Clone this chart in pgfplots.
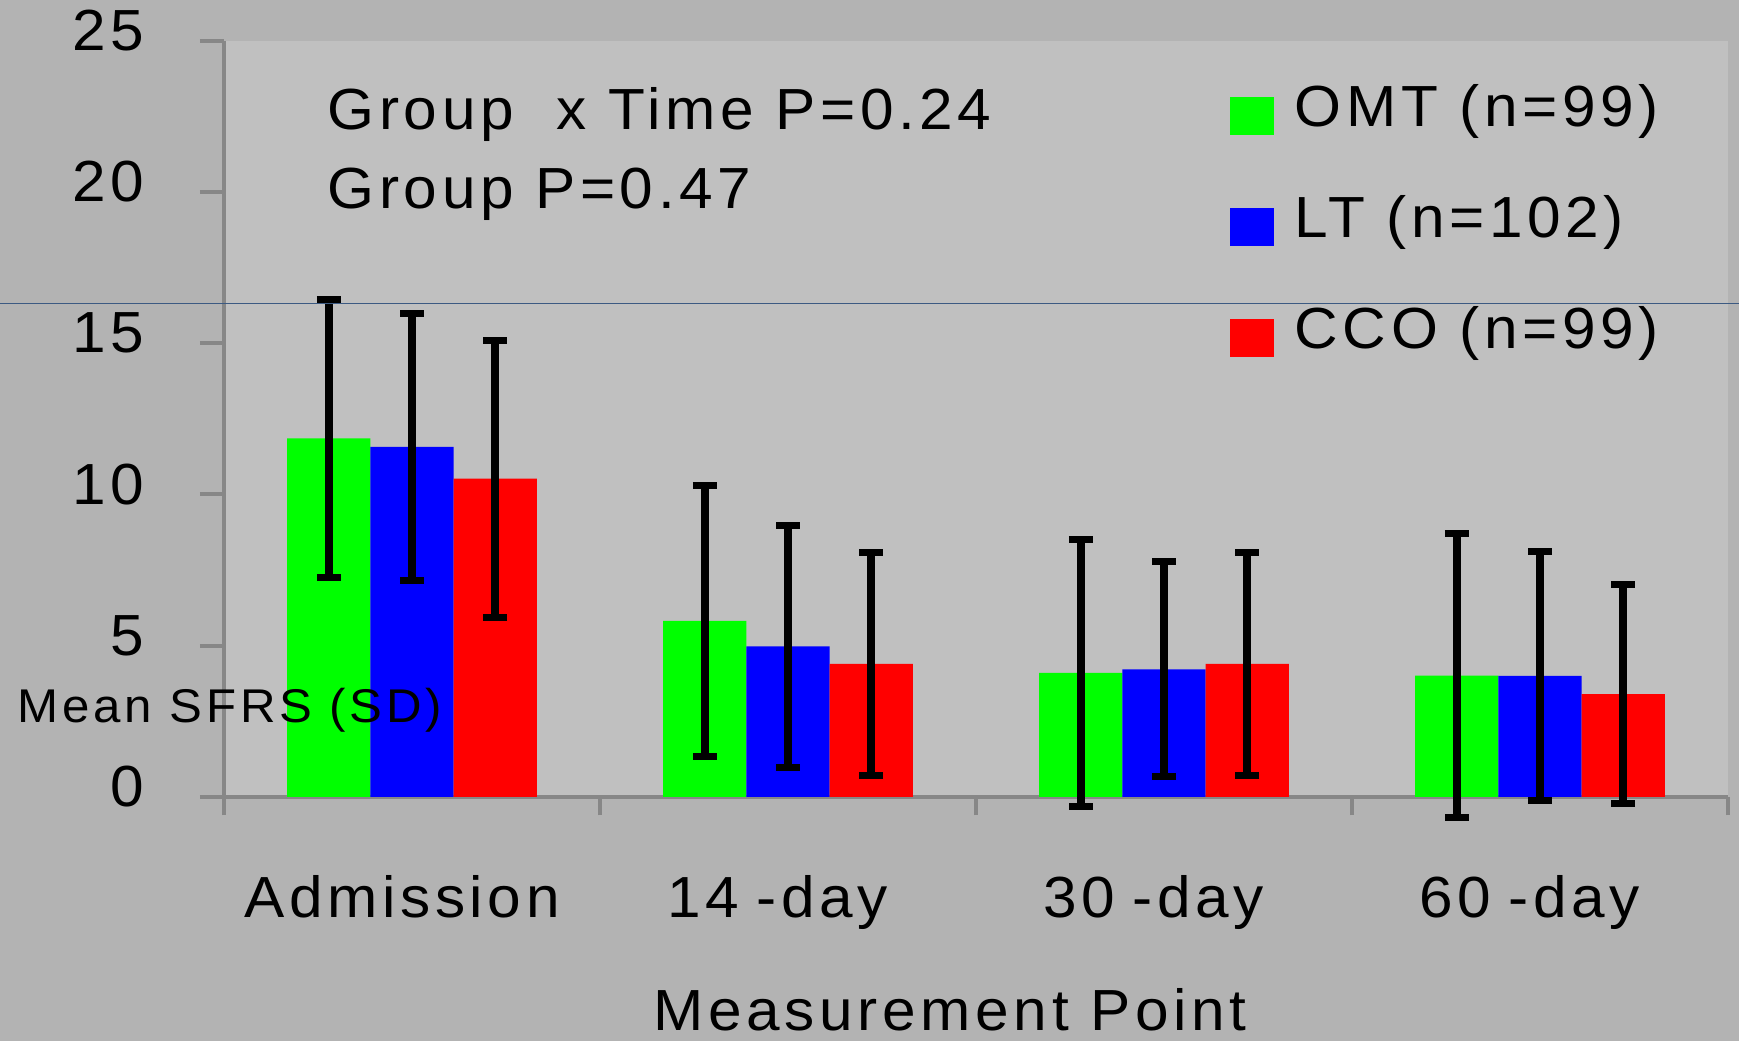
\documentclass[border=0pt]{standalone}
\usepackage{fontspec}
\setmainfont{Liberation Sans}[LetterSpace=8,FakeStretch=1.04]
\usepackage{pgfplots}
\usepackage{pgfplotstable}
\pgfplotsset{compat=1.18}
\definecolor{outerbg}{RGB}{179,179,179}
\definecolor{innerbg}{RGB}{192,192,192}
\definecolor{axgray}{RGB}{135,135,135}
\definecolor{omt}{RGB}{0,255,0}
\definecolor{lt}{RGB}{0,0,255}
\definecolor{cco}{RGB}{255,0,0}
\definecolor{artline}{RGB}{60,90,130}
\newcommand{\bigfont}{\fontsize{17.4pt}{20pt}\selectfont}
\newcommand{\smallfont}{\fontsize{14.2pt}{17pt}\selectfont}
\pgfplotstableread{
x g ge b be r re
0 11.85 4.59 11.57 4.40 10.52 4.58
1 5.82 4.47 4.98 3.99 4.40 3.68
2 4.10 4.42 4.22 3.55 4.40 3.68
3 4.01 4.70 4.00 4.12 3.40 3.62
}\data
\begin{document}
\begin{tikzpicture}
\fill[outerbg] (-67.2pt,-73.2pt) rectangle (454.5pt,239.1pt);
\begin{axis}[
  scale only axis, width=451.2pt, height=226.9pt,
  xmin=-0.5, xmax=3.5, ymin=0, ymax=25,
  axis lines*=left,
  axis line style={axgray, line width=1.2pt, -},
  axis background/.style={fill=innerbg},
  clip=false,
  ybar, bar width=0.2215,
  tick align=outside,
  major tick length=7.2pt,
  ytick={0,5,...,25},
  ytick style={axgray, line width=1.2pt},
  xtick={-0.5,0.5,1.5,2.5,3.5},
  x tick label as interval,
  xticklabels={Admission, 14\kern0.3em-day, 30\kern0.3em-day, 60\kern0.3em-day},
  xtick style={axgray, line width=1.2pt, /pgfplots/major tick length=5.5pt},
  /pgf/number format/assume math mode=true,
  yticklabel style={font=\bigfont, anchor=east, inner sep=0pt, xshift=-16.5pt, yshift=3pt},
  xticklabel style={font=\bigfont, anchor=base, inner sep=0pt, yshift=-29pt, xshift=-3pt},
  every axis y label/.style={at={(axis description cs:0,0)}, anchor=base west, xshift=-62.1pt, yshift=22.2pt, font=\smallfont, inner sep=0pt},
  every axis x label/.style={at={(axis description cs:0.4827,0)}, anchor=base, yshift=-70pt, font=\bigfont, inner sep=0pt},
  xlabel={Measurement Point},
  ylabel={Mean SFRS (SD)},
  error bars/y dir=both,
  error bars/y explicit,
  error bars/error bar style={black, line width=2.5pt},
  error bars/error mark options={black, line width=2.1pt, mark size=3.55pt, rotate=90},
]
\addplot[fill=omt, draw=none, bar shift=-0.2215] table[x=x, y=g, y error=ge] {\data};
\addplot[fill=lt, draw=none, bar shift=0] table[x=x, y=b, y error=be] {\data};
\addplot[fill=cco, draw=none, bar shift=0.2215] table[x=x, y=r, y error=re] {\data};

\node[anchor=base west, inner sep=0pt, font=\bigfont] at (rel axis cs:0,0) [xshift=30.9pt, yshift=200.1pt] {Group\ \ x Time P=0.24};
\node[anchor=base west, inner sep=0pt, font=\bigfont] at (rel axis cs:0,0) [xshift=30.9pt, yshift=176.6pt] {Group P=0.47};

\node[anchor=base west, inner sep=0pt, font=\bigfont] at (rel axis cs:0,0) [xshift=301.5pt, yshift=201pt] {\textcolor{omt}{\rule[-2.5pt]{13.2pt}{11.4pt}}\hspace{6.3pt}OMT (n=99)};
\node[anchor=base west, inner sep=0pt, font=\bigfont] at (rel axis cs:0,0) [xshift=301.5pt, yshift=167.8pt] {\textcolor{lt}{\rule[-2.5pt]{13.2pt}{11.4pt}}\hspace{6.3pt}LT (n=102)};
\node[anchor=base west, inner sep=0pt, font=\bigfont] at (rel axis cs:0,0) [xshift=301.5pt, yshift=134.6pt] {\textcolor{cco}{\rule[-2.5pt]{13.2pt}{11.4pt}}\hspace{6.3pt}CCO (n=99)};
\end{axis}
\draw[artline, line width=0.3pt] (-67.2pt,148.1pt) -- (454.5pt,148.1pt);
\pgfresetboundingbox
\path[use as bounding box] (-67.2pt,-73.2pt) rectangle (454.5pt,239.1pt);
\end{tikzpicture}
\end{document}
